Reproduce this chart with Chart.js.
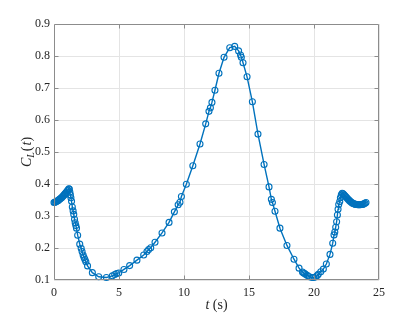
<!DOCTYPE html>
<html>
<head>
<meta charset="utf-8">
<script src="https://cdn.jsdelivr.net/npm/chart.js@4/dist/chart.umd.min.js"></script>
<style>
html,body{margin:0;padding:0;background:#fff;}
#wrap{width:420px;height:315px;position:relative;}
</style>
</head>
<body>
<div id="wrap"><canvas id="c" width="420" height="315"></canvas></div>
<script>
// ---- data ----
const tValues = [
0.00,0.06,0.12,0.18,0.24,0.30,0.36,0.42,0.48,0.54,0.60,0.66,0.72,0.78,0.84,0.90,0.96,1.02,1.08,1.14,
1.18,1.22,1.26,1.30,1.35,1.41,1.47,1.52,1.58,1.63,1.68,1.73,1.82,1.98,2.09,2.16,2.24,2.31,2.38,2.45,2.58,
2.95,3.44,4.03,4.49,4.67,4.82,4.98,5.38,5.82,6.38,6.90,7.15,7.28,7.44,7.77,8.31,8.85,9.26,9.55,9.69,9.80,
10.18,10.68,11.23,11.67,11.92,12.03,12.15,12.38,12.69,13.08,13.52,13.90,14.20,14.35,14.41,14.54,14.85,
15.26,15.69,16.16,16.54,16.72,16.80,17.00,17.38,17.92,18.46,18.85,19.11,19.20,19.28,19.38,19.50,19.65,
19.85,19.98,20.13,20.25,20.33,20.52,20.72,20.95,21.23,21.44,21.54,21.60,21.67,21.74,21.80,21.85,21.90,
21.98,22.03,22.10,22.17,22.24,22.31,22.38,22.45,22.52,22.59,22.66,22.73,22.80,22.87,22.94,23.01,23.08,
23.15,23.22,23.29,23.36,23.43,23.50,23.57,23.64,23.71,23.78,23.85,23.92,24.00
];
const clValues = [
0.342,0.343,0.344,0.345,0.347,0.348,0.350,0.352,0.354,0.356,0.358,0.361,0.363,0.366,0.369,0.372,0.375,0.378,0.381,0.385,
0.384,0.375,0.366,0.357,0.346,0.328,0.316,0.305,0.290,0.279,0.270,0.262,0.240,0.212,0.199,0.189,0.178,0.170,0.164,0.157,0.144,
0.123,0.110,0.108,0.113,0.117,0.120,0.122,0.133,0.145,0.162,0.178,0.189,0.195,0.201,0.218,0.247,0.280,0.313,0.335,0.343,0.361,
0.399,0.457,0.525,0.588,0.627,0.638,0.655,0.693,0.746,0.796,0.826,0.830,0.816,0.803,0.796,0.779,0.735,
0.657,0.556,0.461,0.391,0.352,0.342,0.315,0.262,0.208,0.165,0.137,0.125,0.122,0.120,0.117,0.114,0.110,
0.108,0.108,0.110,0.114,0.118,0.126,0.134,0.150,0.180,0.215,0.241,0.250,0.265,0.282,0.303,0.321,0.336,
0.345,0.357,0.366,0.371,0.369,0.366,0.363,0.360,0.357,0.354,0.351,0.348,0.345,0.343,0.341,0.339,0.338,
0.337,0.336,0.336,0.335,0.335,0.335,0.335,0.336,0.336,0.337,0.338,0.340,0.342
];
const xTicks = [0,5,10,15,20,25];
const yTicks = [0.1,0.2,0.3,0.4,0.5,0.6,0.7,0.8,0.9];
const xTickLabels = ['0','5','10','15','20','25'];
const yTickLabels = ['0.1','0.2','0.3','0.4','0.5','0.6','0.7','0.8','0.9'];

const points = tValues.map((t,i)=>({x:t,y:clValues[i]}));

const FONT = "'Liberation Serif', 'Times New Roman', serif";
const frameColor = '#8c8c8c';
const textColor = '#262626';

const decor = {
  id:'decor',
  afterDraw(chart){
    const ctx = chart.ctx;
    const a = chart.chartArea;
    const xs = chart.scales.x, ys = chart.scales.y;
    const L = Math.round(a.left)+0.5, R = Math.round(a.right)-0.5;
    const T = Math.round(a.top)+0.5, B = Math.round(a.bottom)-0.5;
    ctx.save();
    ctx.strokeStyle = frameColor;
    ctx.lineWidth = 1;
    ctx.beginPath();
    ctx.rect(L,T,R-L,B-T);
    // inward ticks
    xTicks.forEach(v=>{
      const p = Math.round(xs.getPixelForValue(v))+0.5;
      if (p<=L+1 || p>=R-1) return;
      ctx.moveTo(p,B); ctx.lineTo(p,B-4);
      ctx.moveTo(p,T); ctx.lineTo(p,T+4);
    });
    yTicks.forEach(v=>{
      const p = Math.round(ys.getPixelForValue(v))+0.5;
      if (p<=T+1 || p>=B-1) return;
      ctx.moveTo(L,p); ctx.lineTo(L+4,p);
      ctx.moveTo(R,p); ctx.lineTo(R-4,p);
    });
    ctx.stroke();

    // x-axis title: t (s)
    ctx.fillStyle = textColor;
    ctx.textBaseline = 'alphabetic';
    ctx.textAlign = 'left';
    const fI = 'italic 14px ' + FONT, fN = '14px ' + FONT;
    ctx.font = fI; const w1 = ctx.measureText('t').width;
    ctx.font = fN; const w2 = ctx.measureText(' (s)').width;
    let x0 = (a.left + a.right)/2 - (w1+w2)/2;
    const yb = 309;
    ctx.font = fI; ctx.fillText('t', x0, yb);
    ctx.font = fN; ctx.fillText(' (s)', x0+w1, yb);

    // y-axis title: C_L(t)
    ctx.translate(31, (a.top + a.bottom)/2);
    ctx.rotate(-Math.PI/2);
    const fS = 'italic 10px ' + FONT;
    const parts = [['C',fI,0,0],['L',fS,3,1],['(',fN,0,1],['t',fI,0,0],[')',fN,0,0]];
    let tot = 0;
    parts.forEach(p=>{ctx.font=p[1]; p.push(ctx.measureText(p[0]).width); tot+=p[4]+p[3];});
    let cx = -tot/2;
    parts.forEach(p=>{ctx.font=p[1]; ctx.fillText(p[0], cx, p[2]); cx+=p[4]+p[3];});
    ctx.restore();
  }
};

new Chart(document.getElementById('c'), {
  type:'scatter',
  data:{datasets:[{
    data: points,
    showLine:true,
    borderColor:'#0072BD',
    borderWidth:1.4,
    pointStyle:'circle',
    pointRadius:3,
    pointBorderWidth:1.1,
    pointBackgroundColor:'rgba(0,0,0,0)',
    pointBorderColor:'#0072BD',
    tension:0,
    clip:false
  }]},
  options:{
    responsive:false,
    animation:false,
    events:[],
    layout:{padding:{left:0,right:41,top:24,bottom:0}},
    plugins:{legend:{display:false},tooltip:{enabled:false}},
    scales:{
      x:{
        type:'linear', min:0, max:25,
        afterFit(s){s.height=35;},
        afterBuildTicks(s){s.ticks = xTicks.map(v=>({value:v}));},
        grid:{color:'#e4e4e4', drawTicks:false},
        border:{display:false},
        ticks:{padding:6, color:textColor, font:{family:FONT,size:12},
          maxRotation:0, callback:(v)=>{const i=xTicks.indexOf(v);return i>=0?xTickLabels[i]:'';}}
      },
      y:{
        type:'linear', min:0.1, max:0.9,
        afterFit(s){s.width=54;},
        afterBuildTicks(s){s.ticks = yTicks.map(v=>({value:v}));},
        grid:{color:'#e4e4e4', drawTicks:false},
        border:{display:false},
        ticks:{padding:4, color:textColor, font:{family:FONT,size:12},
          callback:(v)=>{const i=yTicks.findIndex(t=>Math.abs(t-v)<1e-9);return i>=0?yTickLabels[i]:'';}}
      }
    }
  },
  plugins:[decor]
});
</script>
</body>
</html>
